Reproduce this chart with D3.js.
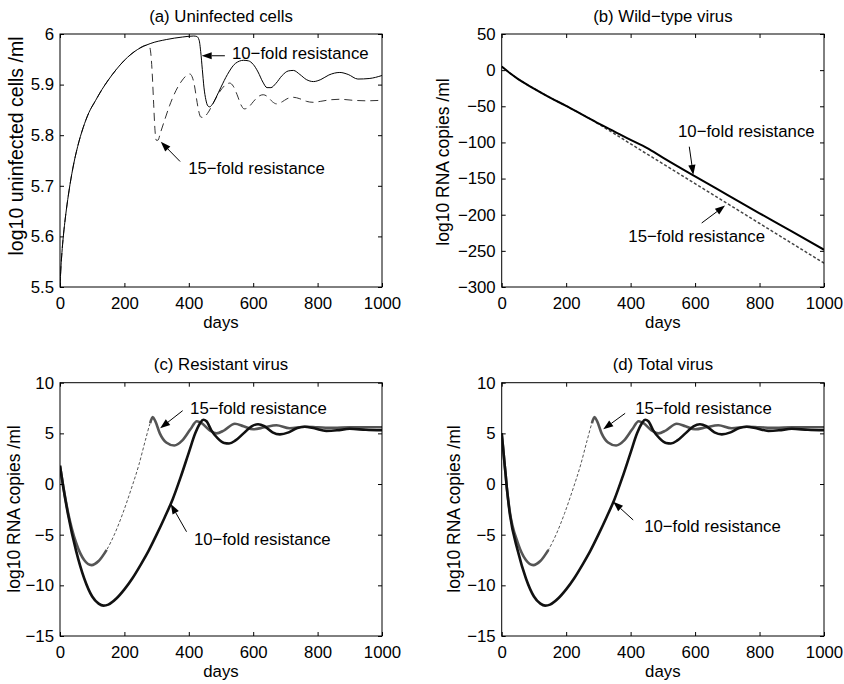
<!DOCTYPE html>
<html>
<head>
<meta charset="utf-8">
<script src="https://cdn.jsdelivr.net/npm/d3@7"></script>
<style>
  body { margin: 0; background: #fff; }
  text { font-family: "Liberation Sans", Arial, Helvetica, sans-serif; fill: #000; }
</style>
</head>
<body>
<svg id="fig" width="844" height="684"></svg>
<script>
// ---- shared axis values ----
const xTicks = [0, 200, 400, 600, 800, 1000];
const yTicksCells = [5.5, 5.6, 5.7, 5.8, 5.9, 6];
const yTicksWild = [-300, -250, -200, -150, -100, -50, 0, 50];
const yTicksVirus = [-15, -10, -5, 0, 5, 10];

// ---- (a) uninfected cells, log10 per ml ----
const aDays10 = [0,3,6,10,15,20,28,40,55,72,90,110,130,150,175,200,240,280,330,380,415,425,432,437,442,447,453,459,465,472,485,500,520,545,570,585,600,615,630,643,655,670,690,709,725,745,765,787,810,835,869,895,925,960,1000];
const aCells10 = [5.5,5.54,5.568,5.598,5.628,5.654,5.69,5.735,5.778,5.815,5.845,5.868,5.89,5.909,5.93,5.948,5.969,5.981,5.989,5.994,5.996,5.995,5.988,5.965,5.93,5.895,5.87,5.858,5.856,5.86,5.875,5.895,5.92,5.942,5.948,5.947,5.94,5.925,5.905,5.894,5.894,5.902,5.918,5.927,5.928,5.92,5.91,5.906,5.91,5.919,5.924,5.92,5.911,5.912,5.918];
const aDays15 = [0,3,6,10,15,20,28,40,55,72,90,110,130,150,175,200,240,270,278,283,287,291,295,299,304,312,325,340,360,380,395,403,410,417,424,430,437,445,458,475,495,515,527,538,550,562,572,585,600,615,631,645,660,672,690,705,724,745,765,786,810,840,870,910,950,1000];
const aCells15 = [5.5,5.54,5.568,5.598,5.628,5.654,5.69,5.735,5.778,5.815,5.845,5.868,5.89,5.909,5.93,5.948,5.969,5.978,5.975,5.955,5.915,5.86,5.81,5.79,5.79,5.805,5.83,5.858,5.888,5.909,5.919,5.921,5.916,5.9,5.872,5.85,5.836,5.835,5.843,5.862,5.885,5.9,5.903,5.897,5.88,5.86,5.852,5.855,5.866,5.876,5.88,5.876,5.866,5.862,5.866,5.872,5.875,5.872,5.867,5.865,5.867,5.87,5.871,5.869,5.868,5.869];

// ---- (b) wild-type virus, log10 RNA copies per ml ----
const bDays10 = [0,25,50,75,100,150,200,250,300,350,400,450,500,600,700,800,900,1000];
const bWild10 = [5,-4,-12,-19,-25.5,-38,-49.5,-61.5,-73.5,-85,-96.5,-107.5,-121,-147,-172.5,-198,-223,-248.5];
const bDays15 = [0,25,50,75,100,150,200,250,280,300,350,400,500,600,700,800,900,1000];
const bWild15 = [5,-4,-12,-19,-25.5,-38,-49.5,-61.5,-68.8,-74.3,-88,-102,-129.5,-157,-184.5,-212,-239.5,-267];

// ---- (c) resistant virus, log10 RNA copies per ml ----
const cDays10 = [0,10,25,50,75,100,120,135,150,175,200,225,250,275,300,325,350,375,400,420,435,445,455,470,490,510,525,545,570,595,615,635,660,683,710,735,760,790,827,860,900,950,1000];
const cRes10 = [1.8,-0.3,-3.0,-6.6,-9.3,-11.1,-11.8,-12.0,-11.9,-11.3,-10.4,-9.3,-8.0,-6.6,-5.0,-3.3,-1.5,0.7,3.1,5.0,6.0,6.35,6.2,5.3,4.5,4.05,4.0,4.3,5.0,5.7,5.9,5.7,5.1,4.9,5.1,5.5,5.65,5.5,5.25,5.3,5.45,5.35,5.3];
const cDays15 = [0,10,25,50,75,98,120,145,170,195,220,245,265,280,288,296,310,330,355,380,405,425,440,465,486,510,543,570,600,635,672,713,760,800,850,900,1000];
const cRes15 = [1.8,-0.2,-2.8,-5.8,-7.5,-8.0,-7.6,-6.5,-4.9,-2.9,-0.6,1.9,4.3,6.0,6.6,6.2,5.0,4.1,3.8,4.3,5.4,6.2,6.0,5.3,5.0,5.3,5.95,5.7,5.4,5.6,5.8,5.5,5.65,5.6,5.55,5.6,5.6];

// ---- (d) total virus, log10 RNA copies per ml ----
const dDays10 = [0,4,8,12,16,20,25,50,75,100,120,135,150,175,200,225,250,275,300,325,350,375,400,420,435,445,455,470,490,510,525,545,570,595,615,635,660,683,710,735,760,790,827,860,900,950,1000];
const dTot10 = [5.0,3.7,2.3,1.0,-0.4,-1.6,-2.9,-6.6,-9.3,-11.1,-11.8,-12.0,-11.9,-11.3,-10.4,-9.3,-8.0,-6.6,-5.0,-3.3,-1.5,0.7,3.1,5.0,6.0,6.35,6.2,5.3,4.5,4.05,4.0,4.3,5.0,5.7,5.9,5.7,5.1,4.9,5.1,5.5,5.65,5.5,5.25,5.3,5.45,5.35,5.3];
const dDays15 = [0,4,8,12,16,20,25,50,75,98,120,145,170,195,220,245,265,280,288,296,310,330,355,380,405,425,440,465,486,510,543,570,600,635,672,713,760,800,850,900,1000];
const dTot15 = [5.0,3.7,2.3,1.0,-0.4,-1.5,-2.7,-5.8,-7.5,-8.0,-7.6,-6.5,-4.9,-2.9,-0.6,1.9,4.3,6.0,6.6,6.2,5.0,4.1,3.8,4.3,5.4,6.2,6.0,5.3,5.0,5.3,5.95,5.7,5.4,5.6,5.8,5.5,5.65,5.6,5.55,5.6,5.6];

// ---- annotation anchors (day, value) ----
const label10 = "10\u2212fold resistance";
const label15 = "15\u2212fold resistance";
const notesA = [
  { text: label10, at: [534, 5.962], from: [512, 5.957], to: [440, 5.957] },
  { text: label15, at: [398, 5.735], from: [373, 5.748], to: [313, 5.787] }
];
const notesB = [
  { text: label10, at: [547, -83.8], from: [582, -105.9], to: [594.5, -145] },
  { text: label15, at: [393, -229.5], from: [620.5, -211.5], to: [693, -187.3] }
];
const notesC = [
  { text: label15, at: [404, 7.47], from: [381, 7.24], to: [311, 5.5] },
  { text: label10, at: [416, -5.43], from: [393, -4.71], to: [344, -1.97] }
];
const notesD = [
  { text: label15, at: [414, 7.47], from: [383, 6.98], to: [315, 5.4] },
  { text: label10, at: [442, -4.12], from: [408, -3.55], to: [346, -1.75] }
];

const zip = (xs, ys) => xs.map((d, i) => ({ x: d, y: ys[i] }));
const fmt = v => String(+v.toFixed(2)).replace("-", "\u2212");

const svg = d3.select("#fig");
const FONT = 16.8;

function drawPanel(cfg) {
  const g = svg.append("g");
  const x = d3.scaleLinear().domain([0, 1000]).range([cfg.l, cfg.r]);
  const y = d3.scaleLinear().domain(cfg.yDomain).range([cfg.b, cfg.t]);

  const clipId = "clip-" + cfg.id;
  svg.append("clipPath").attr("id", clipId)
    .append("rect").attr("x", cfg.l).attr("y", cfg.t)
    .attr("width", cfg.r - cfg.l).attr("height", cfg.b - cfg.t);

  const plot = g.append("g").attr("clip-path", `url(#${clipId})`);
  cfg.series.forEach(s => {
    const line = d3.line().x(d => x(d.x)).y(d => y(d.y)).curve(d3.curveMonotoneX);
    if (s.defined) line.defined(s.defined);
    plot.append("path")
      .datum(s.data)
      .attr("fill", "none")
      .attr("stroke", s.color)
      .attr("stroke-width", s.width)
      .attr("stroke-dasharray", s.dash || null)
      .attr("stroke-linejoin", "round")
      .attr("d", line);
  });

  // axes with inward ticks on all four sides
  const ax = (axis, tx, ty, labels) => {
    const a = g.append("g").attr("transform", `translate(${tx},${ty})`).call(axis);
    a.select(".domain").remove();
    a.selectAll("line").attr("stroke", "#000");
    a.selectAll("text").style("font-size", FONT + "px").attr("fill", "#000");
    if (!labels) a.selectAll("text").remove();
    return a;
  };
  ax(d3.axisBottom(x).tickValues(xTicks).tickSize(-4).tickPadding(10).tickFormat(d3.format("d")), 0, cfg.b, true);
  ax(d3.axisTop(x).tickValues(xTicks).tickSize(-4), 0, cfg.t, false);
  ax(d3.axisLeft(y).tickValues(cfg.yTicks).tickSize(-4).tickPadding(6).tickFormat(fmt), cfg.l, 0, true);
  ax(d3.axisRight(y).tickValues(cfg.yTicks).tickSize(-4), cfg.r, 0, false);

  g.append("rect")
    .attr("x", cfg.l).attr("y", cfg.t)
    .attr("width", cfg.r - cfg.l).attr("height", cfg.b - cfg.t)
    .attr("fill", "none").attr("stroke", "#000").attr("stroke-width", 1);

  // title, axis labels
  g.append("text").attr("x", (cfg.l + cfg.r) / 2).attr("y", cfg.t - 12.5)
    .attr("text-anchor", "middle").style("font-size", FONT + "px").text(cfg.title);
  g.append("text").attr("x", (cfg.l + cfg.r) / 2).attr("y", cfg.b + 41)
    .attr("text-anchor", "middle").style("font-size", FONT + "px").text("days");
  g.append("text")
    .attr("transform", `translate(${cfg.yLabelX},${cfg.yLabelY}) rotate(-90)`)
    .attr("text-anchor", "middle").style("font-size", cfg.yLabelSize + "px").text(cfg.yLabel);

  // annotations with arrows
  cfg.notes.forEach(n => {
    g.append("text").attr("x", x(n.at[0])).attr("y", y(n.at[1])).attr("dy", "0.35em")
      .style("font-size", FONT + "px").text(n.text);
    const x0 = x(n.from[0]), y0 = y(n.from[1]), x1 = x(n.to[0]), y1 = y(n.to[1]);
    const len = Math.hypot(x1 - x0, y1 - y0), ux = (x1 - x0) / len, uy = (y1 - y0) / len;
    const hl = 10, hw = 3.6;
    const bx = x1 - ux * hl, by = y1 - uy * hl;
    g.append("line").attr("x1", x0).attr("y1", y0).attr("x2", bx).attr("y2", by)
      .attr("stroke", "#000").attr("stroke-width", 1);
    g.append("path")
      .attr("d", `M${x1},${y1}L${bx - uy * hw},${by + ux * hw}L${bx + uy * hw},${by - ux * hw}Z`)
      .attr("fill", "#000");
  });
}

const thin = d => d.x <= 145 || d.x >= 280;

drawPanel({
  id: "a", l: 60, r: 382, t: 34, b: 287, yDomain: [5.5, 6], yTicks: yTicksCells,
  title: "(a) Uninfected cells", yLabel: "log10 uninfected cells /ml", yLabelX: 23, yLabelY: 146, yLabelSize: 19.5,
  series: [
    { data: zip(aDays15, aCells15), color: "#333", width: 1, dash: "8,5" },
    { data: zip(aDays10, aCells10), color: "#000", width: 1 }
  ],
  notes: notesA
});
drawPanel({
  id: "b", l: 501.7, r: 824, t: 34, b: 287, yDomain: [-300, 50], yTicks: yTicksWild,
  title: "(b) Wild\u2212type virus", yLabel: "log10 RNA copies /ml", yLabelX: 449, yLabelY: 162, yLabelSize: 17.5,
  series: [
    { data: zip(bDays15, bWild15), color: "#444", width: 1.5, dash: "3,2" },
    { data: zip(bDays10, bWild10), color: "#000", width: 2 }
  ],
  notes: notesB
});
drawPanel({
  id: "c", l: 60, r: 382, t: 382.7, b: 636, yDomain: [-15, 10], yTicks: yTicksVirus,
  title: "(c) Resistant virus", yLabel: "log10 RNA copies /ml", yLabelX: 19.5, yLabelY: 509, yLabelSize: 17.5,
  series: [
    { data: zip(cDays15, cRes15), color: "#555", width: 1, dash: "3,2" },
    { data: zip(cDays15, cRes15), color: "#555", width: 2.6, defined: thin },
    { data: zip(cDays10, cRes10), color: "#111", width: 2.6 }
  ],
  notes: notesC
});
drawPanel({
  id: "d", l: 501.7, r: 824, t: 382.7, b: 636, yDomain: [-15, 10], yTicks: yTicksVirus,
  title: "(d) Total virus", yLabel: "log10 RNA copies /ml", yLabelX: 460, yLabelY: 509, yLabelSize: 17.5,
  series: [
    { data: zip(dDays15, dTot15), color: "#555", width: 1, dash: "3,2" },
    { data: zip(dDays15, dTot15), color: "#555", width: 2.6, defined: thin },
    { data: zip(dDays10, dTot10), color: "#111", width: 2.6 }
  ],
  notes: notesD
});
</script>
</body>
</html>
